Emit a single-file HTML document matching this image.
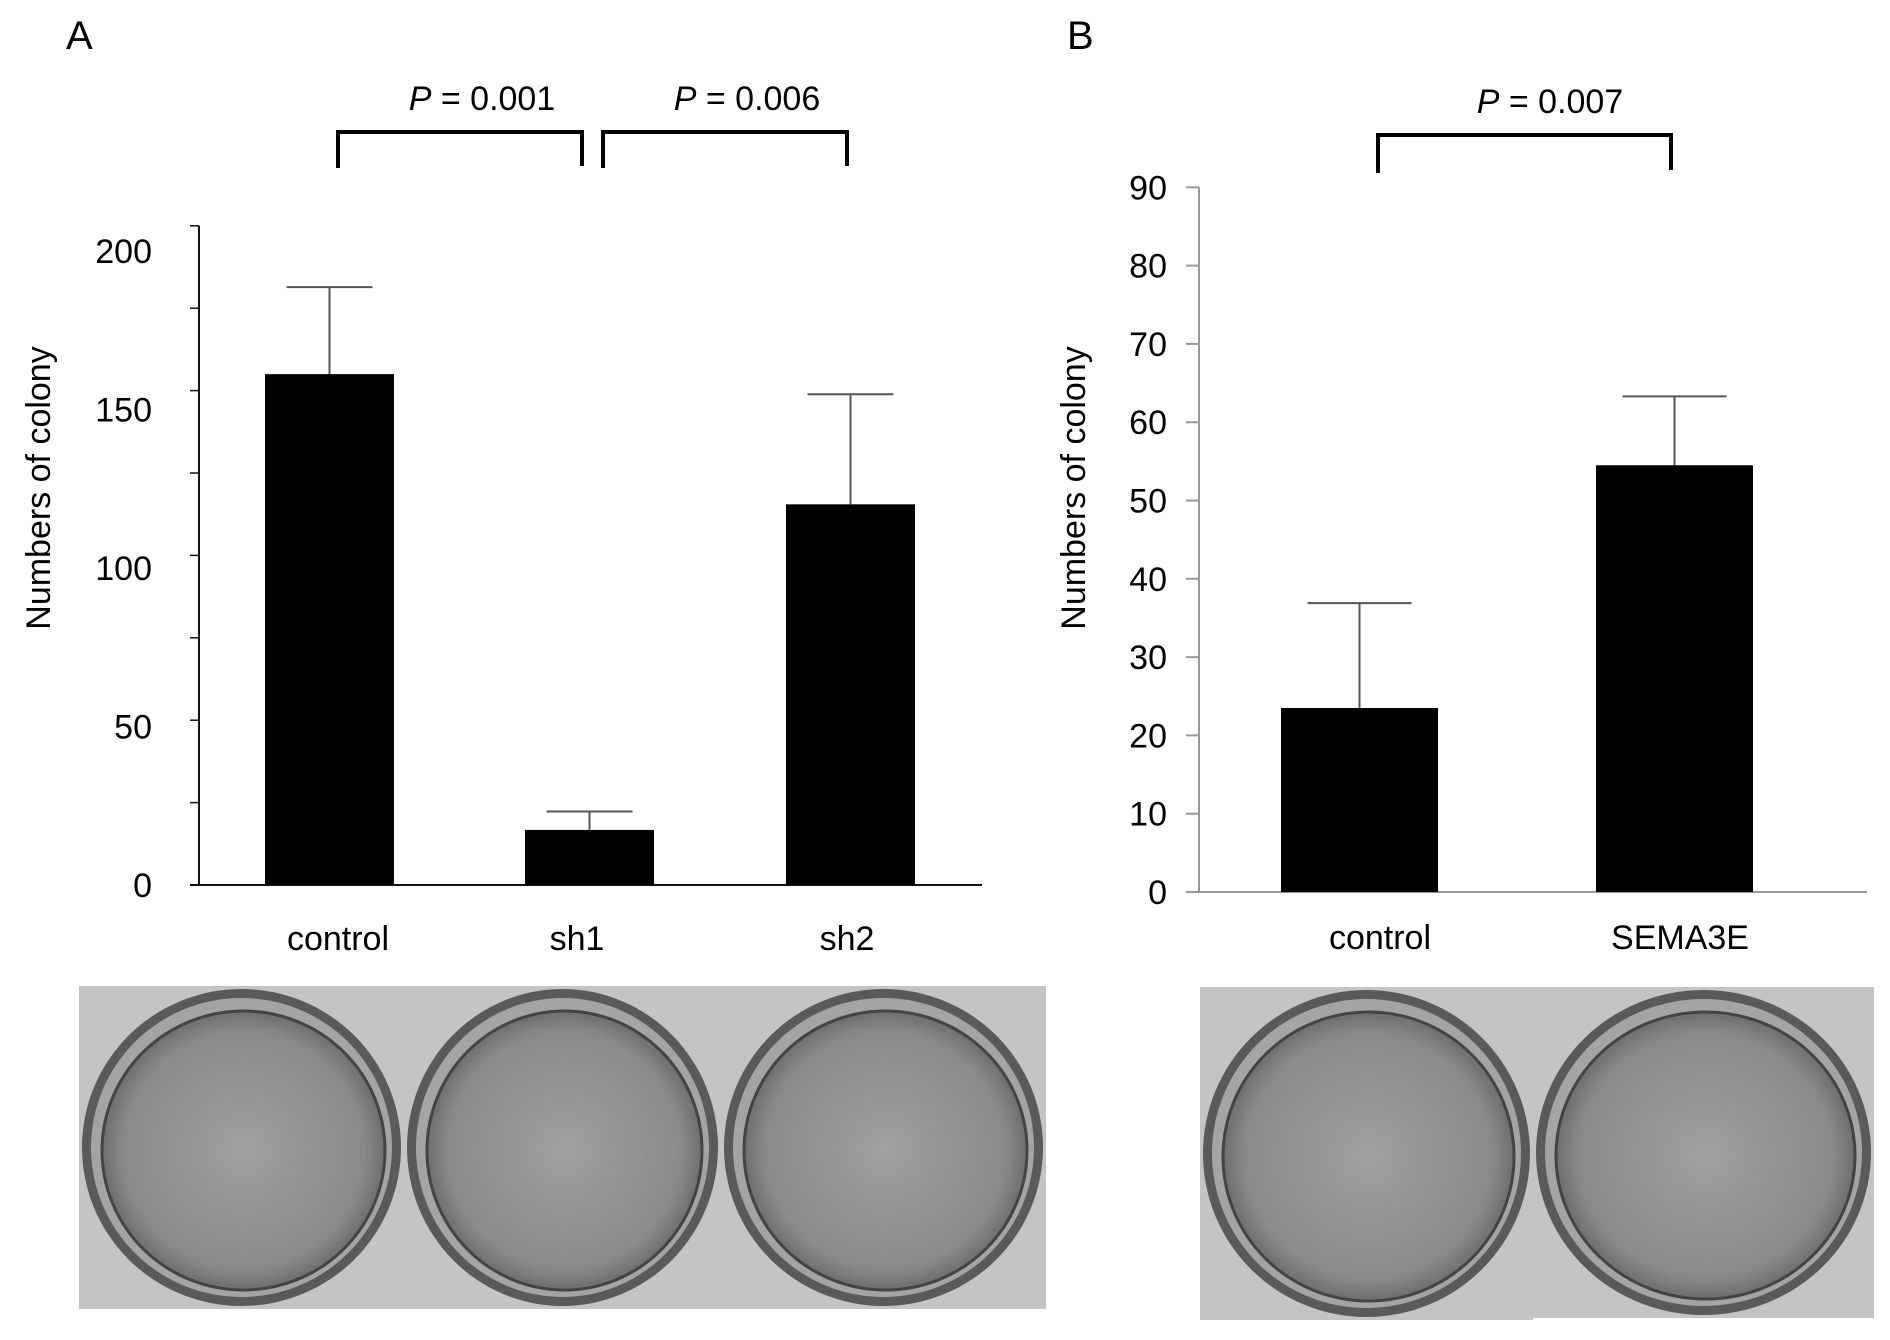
<!DOCTYPE html>
<html><head><meta charset="utf-8"><style>
body{margin:0;background:#fff;}
svg{display:block;font-family:"Liberation Sans",Arial,sans-serif;}
</style></head><body>
<svg id="fig" width="1890" height="1340" viewBox="0 0 1890 1340">
<defs>
<radialGradient id="dishG" cx="50%" cy="50%" r="50%">
<stop offset="0" stop-color="#a0a0a0"/><stop offset="0.85" stop-color="#8a8a8a"/><stop offset="1" stop-color="#6e6e6e"/>
</radialGradient>
</defs>
<text x="66" y="49" font-size="40">A</text>
<text x="1067" y="49" font-size="40">B</text>
<g id="chartA"></g>
<g id="chartB"></g>
<g id="photos"></g>
</svg>
<script>
const catsA = ["control","sh1","sh2"];
const valsA = [155, 16.7, 115.5];
const errA = [181.4, 22.3, 148.9];
const ticksA = [0,50,100,150,200];
const catsB = ["control","SEMA3E"];
const valsB = [23.5, 54.5];
const errB = [36.9, 63.3];
const ticksB = [0,10,20,30,40,50,60,70,80,90];
const pA = ["P = 0.001","P = 0.006"];
const pB = ["P = 0.007"];

const NS="http://www.w3.org/2000/svg";
function mk(parent,tag,attrs,txt){const e=document.createElementNS(NS,tag);for(const k in attrs)e.setAttribute(k,attrs[k]);if(txt!==undefined)e.textContent=txt;parent.appendChild(e);return e;}

// Panel A
(function(){
const g=document.getElementById('chartA');
const zero=885, perUnit=3.296, labPer=3.17;
const y=v=>zero-v*perUnit;
const axisX=199;
const barX=[265,525,786], barW=129;
let e=mk(g,'line',{x1:axisX,y1:y(200),x2:axisX,y2:zero,stroke:'#111','stroke-width':2});

e=mk(g,'line',{x1:190,y1:zero,x2:982,y2:zero,stroke:'#111','stroke-width':2});

for(let v=0;v<=200;v+=25){e=mk(g,'line',{x1:190,y1:y(v),x2:axisX,y2:y(v),stroke:'#111','stroke-width':1.5});
}
ticksA.forEach(v=>{e=mk(g,'text',{x:152,y:zero-v*labPer+12,'font-size':34,'text-anchor':'end'},String(v));
});
e=mk(g,'text',{x:0,y:0,'font-size':34,'text-anchor':'middle',transform:'translate(50,488) rotate(-90)'},'Numbers of colony');

catsA.forEach((c,i)=>{
const cx=barX[i]+barW/2;
e=mk(g,'line',{x1:cx,y1:y(errA[i]),x2:cx,y2:y(valsA[i]),stroke:'#555','stroke-width':2});

e=mk(g,'line',{x1:cx-43,y1:y(errA[i]),x2:cx+43,y2:y(errA[i]),stroke:'#555','stroke-width':2});

e=mk(g,'rect',{x:barX[i],y:y(valsA[i]),width:barW,height:zero-y(valsA[i]),fill:'#000'});

e=mk(g,'text',{x:[338,577,847][i],y:950,'font-size':34,'text-anchor':'middle'},c);

});
const br=[[338,582],[603,847]];
br.forEach((b,i)=>{
e=mk(g,'path',{d:`M${b[0]},168 V132 H${b[1]} V166`,fill:'none',stroke:'#000','stroke-width':4});

const t=mk(g,'text',{x:(b[0]+b[1])/2+22,y:110,'font-size':34,'text-anchor':'middle'});

const parts=pA[i].split(' = ');
mk(t,'tspan',{'font-style':'italic'},parts[0]);mk(t,'tspan',{},' = '+parts[1]);
});
})();

// Panel B
(function(){
const g=document.getElementById('chartB');
const zero=892, perUnit=7.83;
const y=v=>zero-v*perUnit;
const axisX=1199;
const barX=[1281,1596], barW=157;
let e=mk(g,'line',{x1:axisX,y1:y(90),x2:axisX,y2:zero,stroke:'#999','stroke-width':2});

e=mk(g,'line',{x1:1186,y1:zero,x2:1867,y2:zero,stroke:'#999','stroke-width':2});

ticksB.forEach(v=>{
e=mk(g,'line',{x1:1186,y1:y(v),x2:axisX,y2:y(v),stroke:'#999','stroke-width':2});

e=mk(g,'text',{x:1167,y:y(v)+12,'font-size':34,'text-anchor':'end'},String(v));

});
e=mk(g,'text',{x:0,y:0,'font-size':34,'text-anchor':'middle',transform:'translate(1085,488) rotate(-90)'},'Numbers of colony');

catsB.forEach((c,i)=>{
const cx=barX[i]+barW/2;
e=mk(g,'line',{x1:cx,y1:y(errB[i]),x2:cx,y2:y(valsB[i]),stroke:'#555','stroke-width':2});

e=mk(g,'line',{x1:cx-52,y1:y(errB[i]),x2:cx+52,y2:y(errB[i]),stroke:'#555','stroke-width':2});

e=mk(g,'rect',{x:barX[i],y:y(valsB[i]),width:barW,height:zero-y(valsB[i]),fill:'#000'});

e=mk(g,'text',{x:[1380,1680][i],y:949,'font-size':34,'text-anchor':'middle'},c);

});
e=mk(g,'path',{d:'M1378,173 V135 H1671 V170',fill:'none',stroke:'#000','stroke-width':4});

const t=mk(g,'text',{x:1550,y:113,'font-size':34,'text-anchor':'middle'});

const parts=pB[0].split(' = ');
mk(t,'tspan',{'font-style':'italic'},parts[0]);mk(t,'tspan',{},' = '+parts[1]);
})();

// Photos
(function(){
const g=document.getElementById('photos');
const cells=[[79,404,986,1309,'control'],[404,721,986,1309,'sh1'],[721,1046,986,1309,'sh2'],[1200,1533,987,1320,'b-control'],[1533,1874,987,1318,'sema3e']];
cells.forEach(c=>{
const [x0,x1,y0,y1,n]=c;
let e=mk(g,'rect',{x:x0,y:y0,width:x1-x0,height:y1-y0,fill:'#c4c4c4'});

const cx=(x0+x1)/2, cy=(y0+y1)/2, rx=(x1-x0)/2-3, ry=(y1-y0)/2-3;
e=mk(g,'ellipse',{cx:cx,cy:cy,rx:rx,ry:ry,fill:'#5a5a5a'});

e=mk(g,'ellipse',{cx:cx,cy:cy,rx:rx-9,ry:ry-9,fill:'#a4a4a4'});

e=mk(g,'ellipse',{cx:cx+2,cy:cy+3,rx:rx-18,ry:ry-19,fill:'url(#dishG)',stroke:'#444','stroke-width':3});

});
})();
</script>
</body></html>
